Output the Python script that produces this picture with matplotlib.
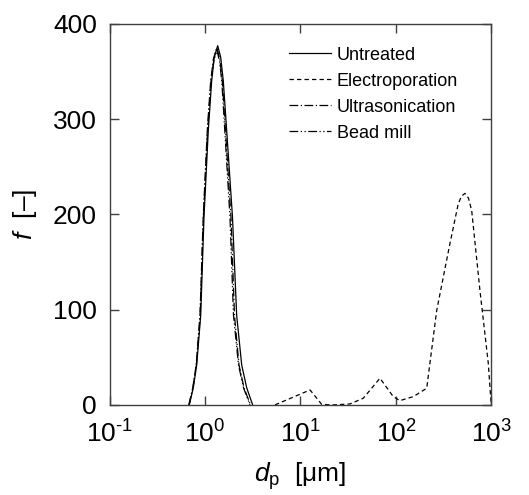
import numpy as np
import matplotlib
matplotlib.use("Agg")
import matplotlib.pyplot as plt
from matplotlib.ticker import FuncFormatter

plt.rcParams['font.family'] = ['Liberation Sans', 'DejaVu Sans']
plt.rcParams['mathtext.fontset'] = 'custom'
plt.rcParams['mathtext.rm'] = 'Liberation Sans'
plt.rcParams['mathtext.it'] = 'Liberation Sans:italic'

# particle size distributions, d_p in um, f in [-]
d_untreated = [0.685, 0.754, 0.819, 0.902, 0.976, 1.083, 1.175, 1.251, 1.358,
               1.460, 1.555, 1.687, 1.941, 2.147, 2.423, 2.733, 3.158]
f_untreated = [0, 18, 42, 94, 197, 288, 340, 365, 377, 365, 340, 288, 197, 94, 42, 18, 0]

d_electro = [5.41, 12.6, 16.7, 21.9, 33.0, 45.5, 68.0, 93.7, 110, 152, 210,
             267, 367, 449, 485, 528, 575, 621, 758, 926, 980, 1000]
f_electro = [0, 15.7, 0.5, 0, 1, 7, 28, 8.7, 4.5, 8.7, 17.5,
             99, 169, 211, 219, 222, 217, 204, 120, 44, 9, 0]

d_ultra = [0.677, 0.745, 0.809, 0.886, 0.958, 1.057, 1.147, 1.224, 1.329,
           1.429, 1.518, 1.639, 1.872, 2.037, 2.270, 2.561, 2.995]
f_ultra = [0, 18, 42, 94, 197, 288, 340, 363, 375, 363, 340, 288, 197, 94, 42, 18, 0]

d_bead = [0.680, 0.749, 0.813, 0.891, 0.964, 1.065, 1.156, 1.236, 1.336,
          1.418, 1.499, 1.612, 1.827, 1.988, 2.243, 2.530, 2.959]
f_bead = [0, 18, 42, 94, 197, 288, 340, 361, 372, 361, 340, 288, 197, 94, 42, 18, 0]

x_ticks = [0.1, 1, 10, 100, 1000]
y_ticks = [0, 100, 200, 300, 400]

fig = plt.figure(figsize=(5.29, 4.95), dpi=100)
ax = fig.add_axes([0.207, 0.182, 0.722, 0.770])

lw = 0.9
ax.plot(d_untreated, f_untreated, color='black', lw=lw, ls='-', label='Untreated')
ax.plot(d_electro, f_electro, color='black', lw=lw, ls=(0, (3.5, 2.5)), label='Electroporation')
ax.plot(d_ultra, f_ultra, color='black', lw=lw, ls=(0, (7, 2, 1, 2)), label='Ultrasonication')
ax.plot(d_bead, f_bead, color='black', lw=lw, ls=(0, (7, 2, 1, 2, 1, 2)), label='Bead mill')

ax.set_xscale('log')
ax.set_xlim(0.1, 1000)
ax.set_ylim(0, 400)
ax.set_yticks(y_ticks)
ax.set_xticks(x_ticks)
ax.minorticks_off()
# decade labels with a plain hyphen in the exponent
ax.xaxis.set_major_formatter(FuncFormatter(
    lambda v, pos: r'$\mathregular{10^{\text{%d}}}$' % round(np.log10(v))))

for s in ax.spines.values():
    s.set_color('#404040')
    s.set_linewidth(1.0)
ax.tick_params(which='both', direction='in', top=True, right=True,
               length=6.5, width=1.0, color='#404040', labelsize=19)
ax.tick_params(axis='y', pad=9)
ax.tick_params(axis='x', pad=11)

ax.set_xlabel(r'$\it{d}_{\rm p}$  [μm]', fontsize=19, labelpad=9)
ax.set_ylabel(r'$\it{f}$  [–]', fontsize=19, labelpad=10)

ax.legend(loc='upper left', bbox_to_anchor=(0.47, 0.94), frameon=False,
          fontsize=13, handlelength=2.3, handletextpad=0.35,
          labelspacing=0.5, borderpad=0, borderaxespad=0)

fig.savefig('out.png', dpi=100)
